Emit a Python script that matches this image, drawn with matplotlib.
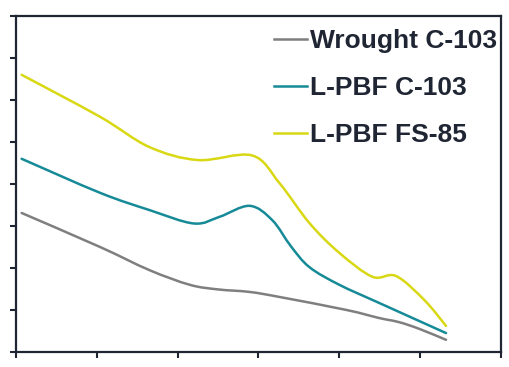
import numpy as np
import matplotlib.pyplot as plt
from matplotlib.path import Path
from matplotlib.patches import PathPatch
from matplotlib.lines import Line2D

# values (x in tick units, y in tick units)
x_wrought = [0.07, 1.04, 1.65, 2.15, 2.50, 2.89, 3.26, 4.09, 4.49, 4.74, 4.99, 5.32]
y_wrought = [3.31, 2.50, 1.95, 1.60, 1.49, 1.43, 1.31, 1.00, 0.81, 0.71, 0.55, 0.29]

x_c103 = [0.07, 1.04, 1.65, 2.20, 2.52, 2.89, 3.17, 3.40, 3.63, 4.00, 4.49, 5.32]
y_c103 = [4.60, 3.79, 3.38, 3.06, 3.22, 3.48, 3.14, 2.52, 2.02, 1.60, 1.17, 0.45]

x_fs85 = [0.07, 1.04, 1.65, 2.25, 2.92, 3.26, 3.63, 4.00, 4.41, 4.70, 5.05, 5.32]
y_fs85 = [6.60, 5.60, 4.88, 4.57, 4.68, 4.02, 3.07, 2.36, 1.79, 1.81, 1.24, 0.62]

labels = ['Wrought C-103', 'L-PBF C-103', 'L-PBF FS-85']
colors = ['#7f7f7f', '#168b97', '#d8d814']
dark = '#1f2533'


def smooth_path(x, y):
    # Catmull-Rom style bezier through the points (like a spreadsheet "smoothed line")
    p = np.column_stack([x, y])
    n = len(p)
    verts = [p[0]]
    codes = [Path.MOVETO]
    for i in range(n - 1):
        p0 = p[i - 1] if i > 0 else p[i]
        p3 = p[i + 2] if i + 2 < n else p[i + 1]
        c1 = p[i] + (p[i + 1] - p0) / 6
        c2 = p[i + 1] - (p3 - p[i]) / 6
        verts += [c1, c2, p[i + 1]]
        codes += [Path.CURVE4] * 3
    return Path(verts, codes)


fig = plt.figure(figsize=(5.09, 3.67), dpi=100)
ax = fig.add_axes([0.0314, 0.0409, 0.9529, 0.9155])

series = [(x_wrought, y_wrought), (x_c103, y_c103), (x_fs85, y_fs85)]
handles = []
for (xs, ys), c, lab in zip(series, colors, labels):
    ax.add_patch(PathPatch(smooth_path(xs, ys), fill=False, edgecolor=c, lw=1.8,
                           capstyle='round'))
    handles.append(Line2D([], [], color=c, lw=1.8, label=lab))

ax.set_xlim(0, 6)
ax.set_ylim(0, 8)
ax.set_xticks(np.arange(0, 7))
ax.set_yticks(np.arange(0, 9))
ax.set_xticklabels([])
ax.set_yticklabels([])
ax.tick_params(length=4.3, width=1.5, color=dark, direction='out')
for s in ax.spines.values():
    s.set_color(dark)
    s.set_linewidth(1.6)

leg = ax.legend(handles=handles, loc='upper right', bbox_to_anchor=(1.008, 0.985),
                frameon=False, handlelength=1.25, handletextpad=0.1, labelspacing=0.88,
                borderaxespad=0.0, borderpad=0.3,
                prop={'family': 'Liberation Sans', 'weight': 'bold', 'size': 19})
for t in leg.get_texts():
    t.set_color(dark)

fig.savefig('out.png', dpi=100)
